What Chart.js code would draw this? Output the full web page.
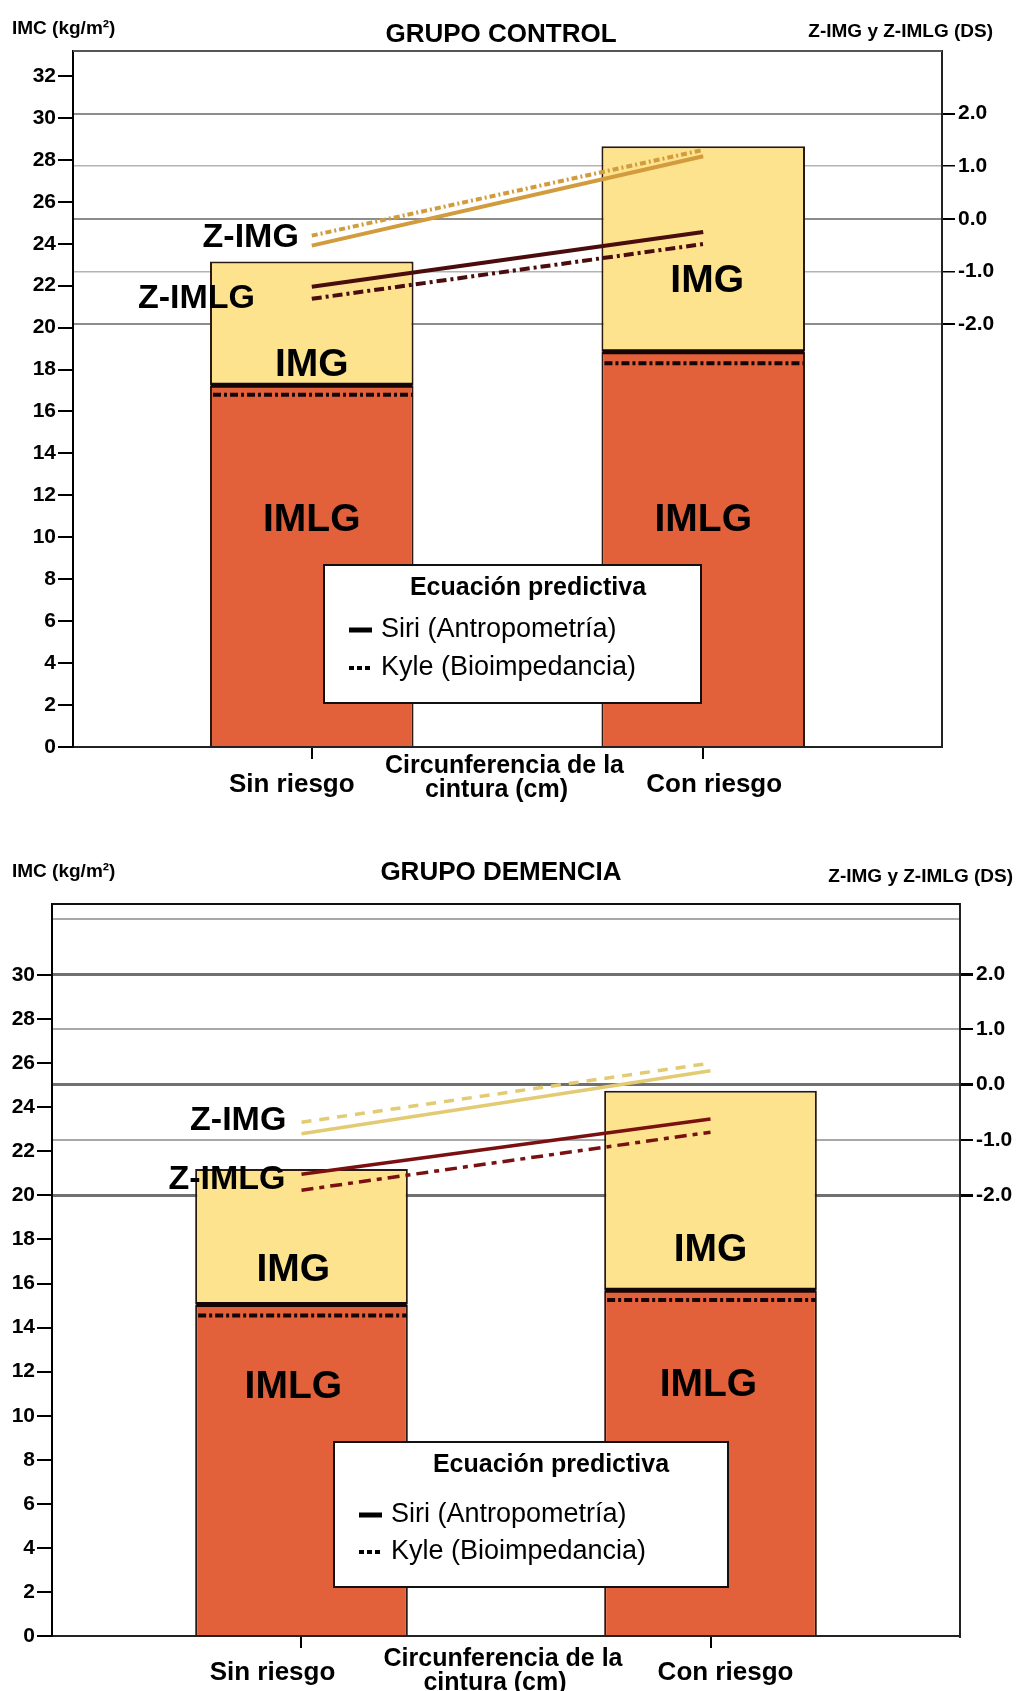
<!DOCTYPE html>
<html lang="es">
<head>
  <meta charset="UTF-8">
  <title>IMC, IMG e IMLG según circunferencia de la cintura</title>
  <script src="https://cdn.jsdelivr.net/npm/chart.js"></script>
  <style>
    body {
      margin: 0;
      background-color: #ffffff;
    }
    canvas {
      display: block;
    }
  </style>
</head>
<body>
  <canvas id="controlChart" width="1016" height="820"></canvas>
  <canvas id="demenciaChart" width="1016" height="871"></canvas>

  <script>
    const categorias = ['Sin riesgo', 'Con riesgo'];

    // Grupo control: IMC (kg/m2) y puntuaciones Z (DS)
    const controlImlgSiri = [17.25, 18.85];
    const controlImgSiri = [5.9, 9.8];
    const controlImlgKyle = [16.8, 18.3];
    const controlZImgSiri = [-0.51, 1.19];
    const controlZImgKyle = [-0.32, 1.31];
    const controlZImlgSiri = [-1.29, -0.25];
    const controlZImlgKyle = [-1.52, -0.48];

    // Grupo demencia
    const demenciaImlgSiri = [15.05, 15.7];
    const demenciaImgSiri = [6.15, 9.05];
    const demenciaImlgKyle = [14.55, 15.25];
    const demenciaZImgSiri = [-0.89, 0.25];
    const demenciaZImgKyle = [-0.68, 0.39];
    const demenciaZImlgSiri = [-1.62, -0.62];
    const demenciaZImlgKyle = [-1.91, -0.86];

    // Marcas de los ejes
    const imcTicksControl = [0, 2, 4, 6, 8, 10, 12, 14, 16, 18, 20, 22, 24, 26, 28, 30, 32];
    const imcTicksDemencia = [0, 2, 4, 6, 8, 10, 12, 14, 16, 18, 20, 22, 24, 26, 28, 30];
    const zTicksControl = [-2, -1, 0, 1, 2];
    const zTicksDemencia = [-2, -1, 0, 1, 2, 3];

    const FUENTE = '"Liberation Sans", Arial, Helvetica, sans-serif';

    function texto(ctx, t, x, y, font, align, color) {
      ctx.save();
      ctx.font = font;
      ctx.textAlign = align || 'center';
      ctx.textBaseline = 'middle';
      ctx.fillStyle = color || '#000';
      ctx.fillText(t, x, y);
      ctx.restore();
    }

    function puntos(valores) {
      return valores.map((v, i) => ({ x: i + 1, y: v }));
    }

    function linea(label, valores, color, ancho, dash) {
      return {
        type: 'line',
        label: label,
        data: puntos(valores),
        yAxisID: 'y2',
        borderColor: color,
        borderWidth: ancho,
        borderDash: dash,
        borderCapStyle: 'butt',
        pointRadius: 0,
        fill: false,
        tension: 0,
        order: 0
      };
    }

    function crearGrafico(id, g) {
      const canvas = document.getElementById(id);
      const area = g.area;

      const dibujos = {
        id: 'dibujos' + id,
        afterDatasetsDraw(chart) {
          const ctx = chart.ctx;
          const ca = chart.chartArea;
          const x = chart.scales.x;
          const y = chart.scales.y;
          const barras = chart.getDatasetMeta(4).data;

          // línea Siri (sólida) y Kyle (punto-raya) dentro de las barras
          barras.forEach((bar, i) => {
            const x0 = bar.x - bar.width / 2 + 1;
            const x1 = bar.x + bar.width / 2 - 1;
            ctx.save();
            ctx.strokeStyle = '#140606';
            ctx.lineWidth = 5;
            ctx.beginPath();
            ctx.moveTo(x0, y.getPixelForValue(g.imlgSiri[i]));
            ctx.lineTo(x1, y.getPixelForValue(g.imlgSiri[i]));
            ctx.stroke();
            ctx.lineWidth = 4;
            ctx.setLineDash([8, 3, 3, 3]);
            ctx.beginPath();
            ctx.moveTo(x0 + 2, y.getPixelForValue(g.imlgKyle[i]));
            ctx.lineTo(x1, y.getPixelForValue(g.imlgKyle[i]));
            ctx.stroke();
            ctx.restore();
          });

          // borde superior del marco
          ctx.save();
          ctx.strokeStyle = g.colorMarco;
          ctx.lineWidth = 2;
          ctx.beginPath();
          ctx.moveTo(ca.left, ca.top);
          ctx.lineTo(ca.right, ca.top);
          ctx.stroke();
          ctx.restore();

          // rótulos dentro de las barras y de las líneas Z
          g.rotulosBarras.forEach(r => {
            texto(ctx, r.t, x.getPixelForValue(r.x), y.getPixelForValue(r.y), 'bold 39px ' + FUENTE);
          });
          g.rotulosZ.forEach(r => {
            texto(ctx, r.t, x.getPixelForValue(r.x), y.getPixelForValue(r.y), 'bold 34px ' + FUENTE, 'right');
          });

          // leyenda
          const L = g.leyenda;
          ctx.save();
          ctx.fillStyle = '#fff';
          ctx.fillRect(L.x, L.y, L.w, L.h);
          ctx.strokeStyle = '#111';
          ctx.lineWidth = 2;
          ctx.strokeRect(L.x, L.y, L.w, L.h);
          ctx.restore();
          texto(ctx, 'Ecuación predictiva', L.x + L.tituloX, L.y + 23, 'bold 25px ' + FUENTE);
          ctx.save();
          ctx.strokeStyle = '#000';
          ctx.lineWidth = 5;
          ctx.beginPath();
          ctx.moveTo(L.x + 25, L.y + L.fila1);
          ctx.lineTo(L.x + 48, L.y + L.fila1);
          ctx.stroke();
          ctx.lineWidth = 4;
          ctx.setLineDash([5, 3]);
          ctx.beginPath();
          ctx.moveTo(L.x + 25, L.y + L.fila2);
          ctx.lineTo(L.x + 48, L.y + L.fila2);
          ctx.stroke();
          ctx.restore();
          texto(ctx, 'Siri (Antropometría)', L.x + 57, L.y + L.fila1, '27px ' + FUENTE, 'left');
          texto(ctx, 'Kyle (Bioimpedancia)', L.x + 57, L.y + L.fila2, '27px ' + FUENTE, 'left');
        },
        afterDraw(chart) {
          const ctx = chart.ctx;
          const ca = chart.chartArea;
          const x = chart.scales.x;
          texto(ctx, g.titulo, 501, g.tituloY, 'bold 26px ' + FUENTE);
          texto(ctx, 'IMC (kg/m²)', 12, g.ejeY, 'bold 19px ' + FUENTE, 'left');
          texto(ctx, 'Z-IMG y Z-IMLG (DS)', g.ejeZX, g.ejeZY, 'bold 19px ' + FUENTE, 'right');
          categorias.forEach((c, i) => {
            texto(ctx, c, x.getPixelForValue(i + 1) + g.desplazaCat[i], ca.bottom + g.filasX[1], 'bold 26px ' + FUENTE);
          });
          const cx = (ca.left + ca.right) / 2 - 3;
          texto(ctx, 'Circunferencia de la', cx, ca.bottom + g.filasX[0], 'bold 25px ' + FUENTE);
          texto(ctx, 'cintura (cm)', cx - 8, ca.bottom + g.filasX[2], 'bold 25px ' + FUENTE);
        }
      };

      return new Chart(canvas, {
        type: 'bar',
        data: {
          datasets: [
            linea('Z-IMG Siri', g.zImgSiri, g.colorZImg, g.anchoLinea, []),
            linea('Z-IMG Kyle', g.zImgKyle, g.colorZImg, g.anchoLinea, g.dashZImg),
            linea('Z-IMLG Siri', g.zImlgSiri, g.colorZImlg, g.anchoLinea, []),
            linea('Z-IMLG Kyle', g.zImlgKyle, g.colorZImlg, g.anchoLinea, g.dashZImlg),
            {
              type: 'bar',
              label: 'IMLG',
              data: puntos(g.imlgSiri),
              backgroundColor: '#E2603A',
              borderColor: '#2a1812',
              borderWidth: { left: 2, right: 2, top: 0, bottom: 0 },
              categoryPercentage: 1,
              barPercentage: 0.52,
              order: 1
            },
            {
              type: 'bar',
              label: 'IMG',
              data: puntos(g.imgSiri),
              backgroundColor: '#FDE38E',
              borderColor: '#2a1812',
              borderWidth: { left: 2, right: 2, top: 2, bottom: 0 },
              categoryPercentage: 1,
              barPercentage: 0.52,
              order: 1
            }
          ]
        },
        options: {
          responsive: false,
          animation: false,
          layout: { padding: { top: area.top, left: 0, right: 0, bottom: 0 } },
          plugins: {
            legend: { display: false },
            tooltip: { enabled: false }
          },
          scales: {
            x: {
              type: 'linear',
              stacked: true,
              offset: false,
              min: 0.39,
              max: 2.61,
              afterBuildTicks: (s) => { s.ticks = categorias.map((c, i) => ({ value: i + 1 })); },
              afterFit: (s) => { s.height = canvas.height - area.bottom; },
              ticks: { display: false },
              grid: { offset: false, drawOnChartArea: false, tickLength: 12, color: '#000', lineWidth: 2 },
              border: { color: '#222', width: 2 }
            },
            y: {
              position: 'left',
              stacked: true,
              min: 0,
              max: g.imcMax,
              afterBuildTicks: (s) => { s.ticks = g.imcTicks.map(v => ({ value: v })); },
              afterFit: (s) => { s.width = area.left; },
              ticks: { color: '#000', padding: 2, font: { family: FUENTE, size: g.fuenteTicks, weight: 'bold' } },
              grid: { drawOnChartArea: false, tickLength: 15, color: '#000', lineWidth: 2 },
              border: { color: '#000', width: 2 }
            },
            y2: {
              position: 'right',
              min: g.zMin,
              max: g.zMax,
              afterBuildTicks: (s) => { s.ticks = g.zTicks.map(v => ({ value: v })); },
              afterFit: (s) => { s.width = canvas.width - area.right; },
              ticks: {
                color: '#000',
                padding: 3,
                font: { family: FUENTE, size: g.fuenteTicks, weight: 'bold' },
                callback: (v) => v > 2 ? '' : v.toFixed(1)
              },
              grid: {
                drawOnChartArea: true,
                tickLength: 13,
                color: (c) => c.tick && c.tick.value % 2 === 0 ? g.gridPar : g.gridImpar,
                lineWidth: (c) => c.tick && c.tick.value % 2 === 0 ? g.anchoPar : g.anchoImpar,
                tickColor: (c) => c.tick && c.tick.value > 2 ? 'rgba(0,0,0,0)' : '#000'
              },
              border: { color: '#222', width: 2 }
            }
          }
        },
        plugins: [dibujos]
      });
    }

    crearGrafico('controlChart', {
      titulo: 'GRUPO CONTROL',
      area: { top: 51, left: 73, right: 942, bottom: 747 },
      imlgSiri: controlImlgSiri,
      imgSiri: controlImgSiri,
      imlgKyle: controlImlgKyle,
      zImgSiri: controlZImgSiri,
      zImgKyle: controlZImgKyle,
      zImlgSiri: controlZImlgSiri,
      zImlgKyle: controlZImlgKyle,
      imcTicks: imcTicksControl,
      zTicks: zTicksControl,
      imcMax: 33.19,
      zMin: -10.04,
      zMax: 3.19,
      colorZImg: '#D19B3E',
      colorZImlg: '#4A0C0C',
      dashZImg: [6, 3, 2, 3],
      dashZImlg: [10, 4, 3, 4],
      anchoLinea: 4,
      gridPar: '#8c8c8c',
      gridImpar: '#b4b4b4',
      anchoPar: 2,
      anchoImpar: 1.5,
      colorMarco: '#555',
      fuenteTicks: 21,
      tituloY: 35,
      ejeY: 29,
      ejeZX: 993,
      ejeZY: 32,
      desplazaCat: [-20, 11],
      filasX: [19, 38, 43],
      rotulosBarras: [
        { t: 'IMG', x: 1, y: 18.2 },
        { t: 'IMG', x: 2.01, y: 22.2 },
        { t: 'IMLG', x: 1, y: 10.8 },
        { t: 'IMLG', x: 2, y: 10.8 }
      ],
      rotulosZ: [
        { t: 'Z-IMG', x: 0.967, y: 24.3 },
        { t: 'Z-IMLG', x: 0.855, y: 21.4 }
      ],
      leyenda: { x: 324, y: 565, w: 377, h: 138, tituloX: 204, fila1: 65, fila2: 103 }
    });

    crearGrafico('demenciaChart', {
      titulo: 'GRUPO DEMENCIA',
      area: { top: 84, left: 52, right: 960, bottom: 816 },
      imlgSiri: demenciaImlgSiri,
      imgSiri: demenciaImgSiri,
      imlgKyle: demenciaImlgKyle,
      zImgSiri: demenciaZImgSiri,
      zImgKyle: demenciaZImgKyle,
      zImlgSiri: demenciaZImlgSiri,
      zImlgKyle: demenciaZImlgKyle,
      imcTicks: imcTicksDemencia,
      zTicks: zTicksDemencia,
      imcMax: 33.23,
      zMin: -9.98,
      zMax: 3.27,
      colorZImg: '#E2CB72',
      colorZImlg: '#7A1010',
      dashZImg: [10, 8],
      dashZImlg: [12, 6, 5, 6],
      anchoLinea: 3.5,
      gridPar: '#707070',
      gridImpar: '#a8a8a8',
      anchoPar: 3,
      anchoImpar: 2,
      colorMarco: '#111',
      fuenteTicks: 21,
      tituloY: 53,
      ejeY: 52,
      ejeZX: 1013,
      ejeZY: 57,
      desplazaCat: [-29, 15],
      filasX: [23, 37, 47],
      rotulosBarras: [
        { t: 'IMG', x: 0.98, y: 16.6 },
        { t: 'IMG', x: 2.0, y: 17.5 },
        { t: 'IMLG', x: 0.98, y: 11.3 },
        { t: 'IMLG', x: 1.995, y: 11.4 }
      ],
      rotulosZ: [
        { t: 'Z-IMG', x: 0.963, y: 23.4 },
        { t: 'Z-IMLG', x: 0.961, y: 20.7 }
      ],
      leyenda: { x: 334, y: 622, w: 394, h: 145, tituloX: 217, fila1: 73, fila2: 110 }
    });
  </script>
</body>
</html>
